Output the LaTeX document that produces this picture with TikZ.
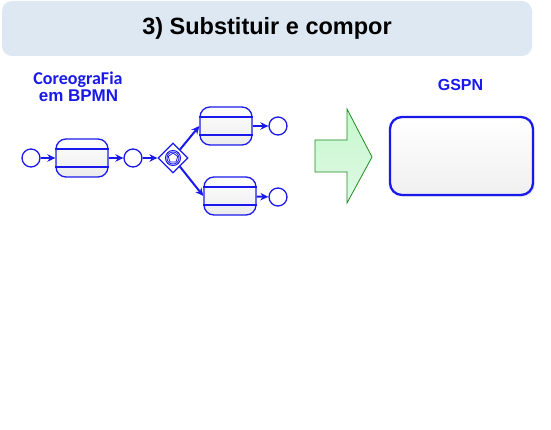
\documentclass[tikz,border=0pt]{standalone}
\usepackage{fontspec}
\setmainfont{Liberation Sans}
\newfontfamily\calfont{Carlito}
\usepackage{xcolor}
\usepackage{tikz}
\usetikzlibrary{arrows.meta,shapes.geometric,shadows}

\definecolor{bpmnblue}{RGB}{25,25,235}
\definecolor{titlebg}{RGB}{222,232,242}
\definecolor{arrowgreen}{RGB}{30,140,30}
\definecolor{arrowfill}{RGB}{212,246,220}

\begin{document}
\begin{tikzpicture}[>={Stealth[length=8pt,width=7.5pt]},x=1pt,y=-1pt,
    task/.style={draw=bpmnblue, line width=1.3pt, rounded corners=10pt,
        minimum width=52pt, minimum height=38pt, inner sep=0pt,
        top color=white, bottom color=gray!15},
    event/.style={circle, draw=bpmnblue, line width=1.3pt, fill=white,
        minimum size=18pt, inner sep=0pt},
    flow/.style={->, draw=bpmnblue, line width=2pt}]

    \useasboundingbox (0,0) rectangle (551,430);

    % -- Title bar --
    \node[fill=titlebg, rounded corners=10pt, minimum width=530pt,
          minimum height=55pt] (title) at (267,28.5)
        {\fontsize{23.5}{27}\selectfont\bfseries 3) Substituir e compor};

    % -- Labels --
    \node[text=bpmnblue, anchor=base] (chor) at (78,85)
        {\calfont\bfseries\fontsize{18}{21}\selectfont CoreograFia};
    \node[text=bpmnblue, anchor=base] (bpmn) at (78.5,102)
        {\bfseries\fontsize{17}{20}\selectfont em BPMN};
    \node[text=bpmnblue, anchor=base] (gspnlbl) at (460.5,91)
        {\bfseries\fontsize{16}{19}\selectfont GSPN};

    % -- Choreography in BPMN --
    \node[event] (start) at (31,158) {};
    \node[task] (t1) at (82,158) {};
    \node[event] (e1) at (133,158) {};

    % event based gateway
    \node[diamond, draw=bpmnblue, line width=1.2pt, fill=white,
          minimum size=30pt, inner sep=0pt] (gw) at (173,158) {};
    \node[circle, draw=bpmnblue, line width=1pt, minimum size=15pt,
          inner sep=0pt] (gwout) at (gw) {};
    \node[circle, draw=bpmnblue, line width=0.8pt, minimum size=12pt,
          inner sep=0pt] (gwin) at (gw) {};
    \node[regular polygon, regular polygon sides=5, draw=bpmnblue,
          line width=0.8pt, minimum size=10pt, inner sep=0pt] (gwpent) at (gw) {};

    \node[task] (t2) at (226,126) {};
    \node[task] (t3) at (230,196) {};
    \node[event] (e2) at (278,126) {};
    \node[event] (e3) at (278,197) {};

    % bands of the choreography tasks
    \foreach \t in {t1,t2,t3} {
        \draw[bpmnblue, line width=1.1pt] ([yshift=9pt]\t.west) -- ([yshift=9pt]\t.east);
        \draw[bpmnblue, line width=1.1pt] ([yshift=-9pt]\t.west) -- ([yshift=-9pt]\t.east);
    }

    % -- Sequence flows --
    \draw[flow] (start) -- (t1);
    \draw[flow] (t1) -- (e1);
    \draw[flow] (e1) -- (gw);
    \draw[flow] (gw) -- (t2.west);
    \draw[flow] (gw) -- (t3.west);
    \draw[flow] (t2) -- (e2);
    \draw[flow] (t3) -- (e3);

    % -- Big green arrow --
    \draw[draw=arrowgreen, line width=0.8pt, top color=arrowfill!90!green!90,
          bottom color=arrowfill!70!white]
        (315,140) -- (347,140) -- (347,109) -- (372,157)
        -- (347,203) -- (347,172) -- (315,172) -- cycle;

    % -- GSPN box --
    \node[draw=bpmnblue, line width=2.3pt, rounded corners=12pt,
          minimum width=143pt, minimum height=78pt,
          top color=white, bottom color=gray!12,
          drop shadow={opacity=0.15, shadow xshift=2pt, shadow yshift=-2pt}]
        (gspn) at (461.5,156) {};

\end{tikzpicture}
\end{document}
